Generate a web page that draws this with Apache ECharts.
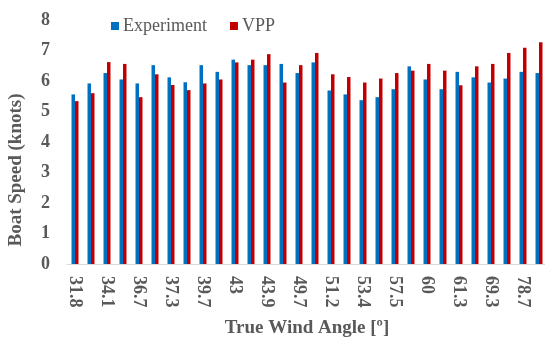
<!DOCTYPE html>
<html>
<head>
<meta charset="utf-8">
<script src="https://cdn.jsdelivr.net/npm/echarts@6/dist/echarts.min.js"></script>
<style>
  html, body { margin: 0; padding: 0; background: #fff; }
  #chart { width: 545px; height: 338px; }
</style>
</head>
<body>
<div id="chart"></div>
<script>
// wind angles (only every other one is labelled on the axis)
var angles = ['31.8', '33.2', '34.1', '35.5', '36.7', '37', '37.3', '38.6', '39.7', '41',
              '43', '43.5', '43.9', '46.8', '49.7', '50.3', '51.2', '52.2', '53.4', '55',
              '57.5', '58.9', '60', '60.8', '61.3', '65', '69.3', '73', '78.7', '82'];

// boat speed, knots
var experiment = [5.56, 5.92, 6.26, 6.05, 5.92, 6.52, 6.12, 5.96, 6.52, 6.30,
                  6.70, 6.52, 6.52, 6.56, 6.26, 6.61, 5.69, 5.56, 5.37, 5.47,
                  5.73, 6.48, 6.05, 5.73, 6.30, 6.12, 5.95, 6.08, 6.30, 6.26];
var vpp = [5.34, 5.60, 6.62, 6.56, 5.47, 6.22, 5.87, 5.70, 5.92, 6.05,
           6.61, 6.70, 6.88, 5.95, 6.52, 6.92, 6.22, 6.13, 5.95, 6.08,
           6.26, 6.34, 6.56, 6.34, 5.86, 6.48, 6.56, 6.92, 7.09, 7.27];

var yTicks = [0, 1, 2, 3, 4, 5, 6, 7, 8];

var serif = '"Liberation Serif", "DejaVu Serif", serif';
var grey = '#595959';

var myChart = echarts.init(document.getElementById('chart'));
myChart.setOption({
    animation: false,
    textStyle: { fontFamily: serif },
    legend: {
        data: ['Experiment', 'VPP'],
        left: 106,
        top: 12,
        itemWidth: 8,
        itemHeight: 8,
        itemGap: 23,
        icon: 'rect',
        textStyle: { fontFamily: serif, fontSize: 18, color: grey, padding: [0, 0, 0, -1] }
    },
    grid: { left: 67, right: -2, top: 20, bottom: 74, outerBoundsMode: 'none' },
    xAxis: {
        type: 'category',
        data: angles,
        name: 'True Wind Angle [º]',
        nameLocation: 'middle',
        nameGap: 55,
        nameTextStyle: { fontFamily: serif, fontSize: 19, fontWeight: 'bold', color: grey },
        axisLine: { lineStyle: { color: '#d9d9d9', width: 1 } },
        axisTick: { show: false },
        axisLabel: {
            interval: 1,
            rotate: -90,
            margin: 12,
            fontFamily: serif,
            fontSize: 18,
            fontWeight: 'bold',
            color: grey
        }
    },
    yAxis: {
        type: 'value',
        min: yTicks[0],
        max: yTicks[yTicks.length - 1],
        interval: 1,
        name: 'Boat Speed (knots)',
        nameLocation: 'middle',
        nameGap: 41,
        nameTextStyle: { fontFamily: serif, fontSize: 19, fontWeight: 'bold', color: grey, padding: [0, 56, 0, 0] },
        axisLine: { show: false },
        axisTick: { show: false },
        splitLine: { show: false },
        axisLabel: { fontFamily: serif, fontSize: 18, fontWeight: 'bold', color: grey, margin: 17 }
    },
    series: [{
        name: 'Experiment',
        type: 'bar',
        data: experiment,
        barWidth: 3.5,
        barGap: '0%',
        itemStyle: { color: '#0070C0' }
    }, {
        name: 'VPP',
        type: 'bar',
        data: vpp,
        barWidth: 3.5,
        itemStyle: { color: '#C00000' }
    }]
});
</script>
</body>
</html>
